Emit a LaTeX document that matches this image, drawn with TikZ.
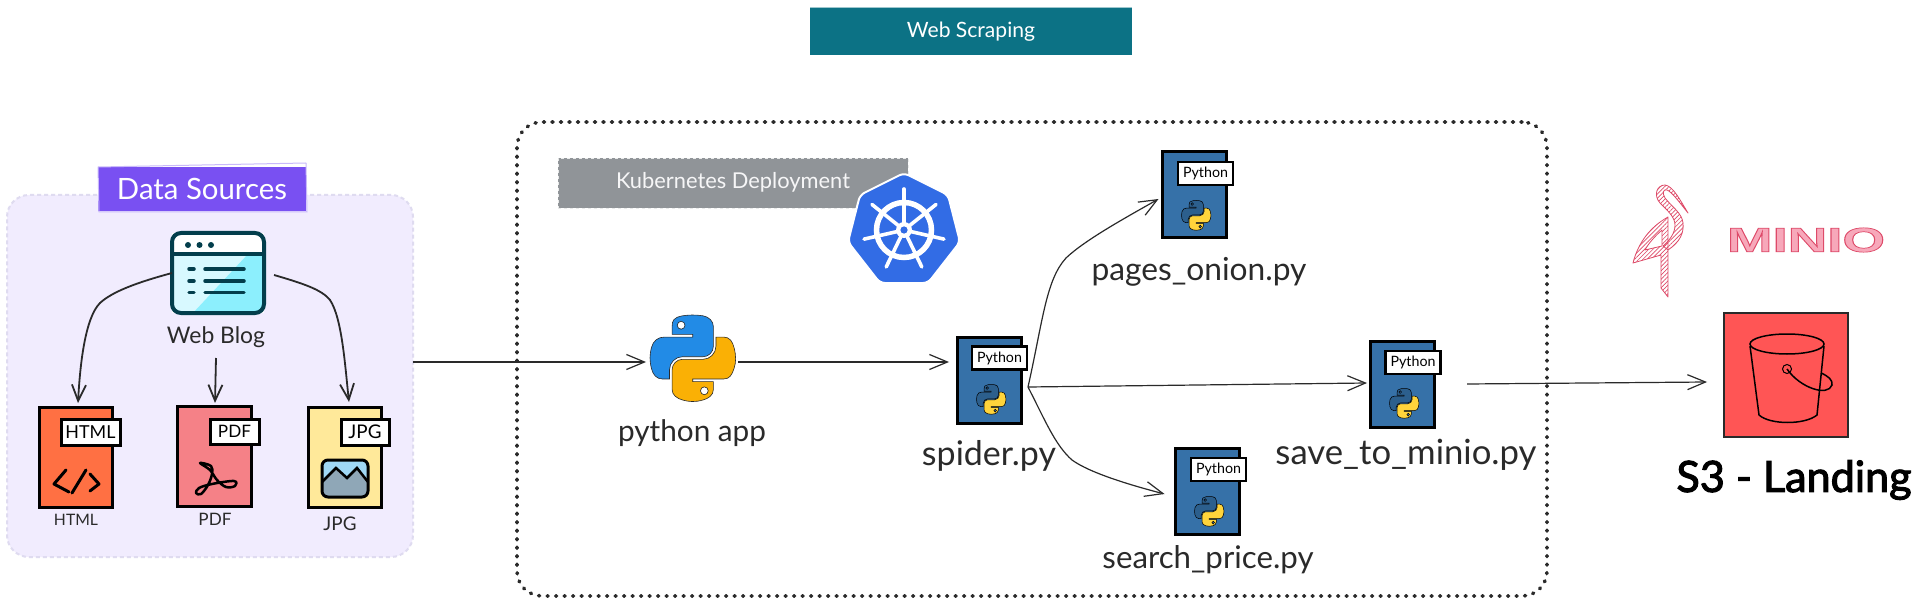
\documentclass[tikz,border=0pt]{standalone}
\usepackage{graphicx}
\usepackage{fontspec}
\setmainfont{Lato}
\usetikzlibrary{arrows.meta,svg.path,patterns.meta}
\definecolor{ink}{HTML}{2A2A2A}
\definecolor{panelfill}{HTML}{F1ECFE}
\definecolor{paneledge}{HTML}{DFDBF0}
\definecolor{violet}{HTML}{7950F2}
\definecolor{teal}{HTML}{0C7285}
\definecolor{kgray}{HTML}{909498}
\definecolor{kblue}{HTML}{326CE5}
\definecolor{htmlred}{HTML}{FF7043}
\definecolor{pdfred}{HTML}{F58187}
\definecolor{jpgyel}{HTML}{FFE99A}
\definecolor{pydoc}{HTML}{3671A8}
\definecolor{sthree}{HTML}{FF5555}
\definecolor{minio}{HTML}{DE4A68}
\definecolor{webstroke}{HTML}{033E4C}
\definecolor{webpale}{HTML}{D8F9FF}
\definecolor{webcyan}{HTML}{8CEFFD}
\definecolor{sky}{HTML}{A0D8F5}
\definecolor{mountain}{HTML}{8FA7B7}
\definecolor{pybigblue}{HTML}{228BE6}
\definecolor{pybigyellow}{HTML}{FAB005}
\definecolor{pysmallblue}{HTML}{2C5F8D}
\definecolor{pysmallyellow}{HTML}{FFD43B}
\newcommand{\fitw}[2]{\resizebox{#1pt}{!}{#2}}
\newcommand{\pylogo}[7]{%
  \begin{scope}[shift={(#1,#2)},xscale=#3,yscale=-#3]
  \path[fill=#4,draw=#6,line width=#7,even odd rule] svg {M 54.92 0 C 50.34 0.02 45.96 0.41 42.11 1.09 C 30.76 3.1 28.7 7.29 28.7 15.03 v 10.22 h 26.81 v 3.41 h -26.81 h -10.06 c -7.79 0 -14.62 4.68 -16.75 13.59 c -2.46 10.21 -2.57 16.59 0 27.25 c 1.91 7.94 6.46 13.59 14.25 13.59 h 9.22 v -12.25 c 0 -8.85 7.66 -16.66 16.75 -16.66 h 26.78 c 7.45 0 13.41 -6.14 13.41 -13.63 v -25.53 c 0 -7.27 -6.13 -12.72 -13.41 -13.94 C 64.28 0.33 59.5 -0.02 54.92 0 Z M 40.42 8.22 c 2.77 0 5.03 2.3 5.03 5.12 c 0 2.82 -2.26 5.09 -5.03 5.09 c -2.78 0 -5.03 -2.28 -5.03 -5.09 c 0 -2.83 2.25 -5.12 5.03 -5.12 Z};
  \path[fill=#5,draw=#6,line width=#7,even odd rule] svg {M 85.64 28.66 v 11.91 c 0 9.23 -7.83 17 -16.75 17 h -26.78 c -7.34 0 -13.41 6.28 -13.41 13.63 v 25.53 c 0 7.27 6.32 11.54 13.41 13.63 c 8.49 2.5 16.63 2.95 26.78 0 c 6.75 -1.95 13.41 -5.89 13.41 -13.63 v -10.22 h -26.78 v -3.41 h 26.78 h 13.41 c 7.79 0 10.7 -5.44 13.41 -13.59 c 2.8 -8.4 2.75 -16.48 0 -27.25 c -1.93 -7.76 -5.6 -13.59 -13.41 -13.59 Z M 70.58 93.32 c 2.78 0 5.03 2.28 5.03 5.09 c 0 2.83 -2.25 5.13 -5.03 5.13 c -2.77 0 -5.03 -2.3 -5.03 -5.13 c 0 -2.82 2.26 -5.09 5.03 -5.09 Z};
  \end{scope}}
\tikzset{
  box/.style={rectangle,inner sep=0pt,outer sep=0pt,align=center},
  sized/.style 2 args={minimum width=#1pt,minimum height=#2pt},
  label text/.style={box,text=ink},
  docfile/.style={box,draw=black,line width=3pt},
  tag/.style={box,draw=black,fill=white,line width=3pt,text=black},
  pytag/.style={box,draw=black,fill=white,line width=2.5pt,text=black,sized={55}{23}},
  pydocfile/.style={docfile,fill=pydoc,sized={64}{86}},
  flow/.style={draw=ink,line width=1.2pt,-{Straight Barb[length=18pt,width=15pt,line width=1.2pt]}},
  srcflow/.style={draw=ink,line width=1.8pt,-{Straight Barb[length=16pt,width=14pt,line width=1.8pt]}},
  glyph/.style={draw=black,line width=3pt,line cap=round,line join=round},
  hatch/.style={draw=minio,line width=.8pt,line join=round,even odd rule,pattern={Lines[angle=45,distance=3pt,line width=.7pt]},pattern color=minio},
}
\begin{document}
\begin{tikzpicture}[x=1pt,y=-1pt]
\useasboundingbox (0,0) rectangle (1920,604);
\fill[white] (0,0) rectangle (1920,604);

% title
\node[box,fill=teal,text=white,sized={322}{47}] (title) at (971,31.5) {\fitw{128}{Web Scraping}};
\draw[teal!40,line width=1pt] (title.north west) -- (title.north east);

% data sources panel
\node[box,fill=panelfill,draw=paneledge,line width=2pt,dash pattern=on 4pt off 3pt,rounded corners=22pt,sized={406}{362}] (sources) at (210,376) {};
\node[box,fill=violet,text=white,sized={208}{44}] (dslabel) at (202,189) {\fitw{170}{Data Sources}};
\draw[violet!40,line width=1pt] (98,167) -- (306,163);
\draw[violet!40,line width=1pt] (98,167) -- (99,212) -- (307,212) -- (306,163);

% web blog icon
\node[box,fill=white,draw=none,sized={92}{80}] (blog) at (218,273) {};
\begin{scope}
  \clip[rounded corners=9pt] (172,233) rectangle (264,313);
  \fill[white] (172,233) rectangle (264,254);
  \fill[webpale] (172,254) rectangle (264,313);
  \fill[webcyan] (248,254) -- (264,254) -- (264,313) -- (193,313) -- cycle;
\end{scope}
\draw[draw=webstroke,line width=4pt,rounded corners=9pt] (172,233) rectangle (264,313);
\draw[draw=webstroke,line width=3.5pt] (172,254) -- (264,254);
\foreach \dotx in {188,199.5,211} \fill[webstroke] (\dotx,245) circle (3pt);
\foreach \liney in {269,281,292.5} {
  \draw[webstroke,line width=3.5pt,line cap=round] (189,\liney) -- (194,\liney);
  \draw[webstroke,line width=3.5pt,line cap=round] (205,\liney) -- (244,\liney);
}
\node[label text] (blogtxt) at (216,337) {\fitw{98}{Web Blog}};

% HTML doc
\node[docfile,fill=htmlred,sized={73}{100}] (html) at (75.5,457) {};
\node[tag,sized={59}{26}] (htmltag) at (90.5,432) {\fitw{50}{HTML}};
\draw[glyph] (66,470) -- (54,484) -- (69,492);
\draw[glyph] (86,470) -- (72,493);
\draw[glyph] (90,474) -- (99,484) -- (90,491);
\node[label text] (htmltxt) at (76,520) {\fitw{44}{HTML}};

% PDF doc
\node[docfile,fill=pdfred,sized={74}{100}] (pdf) at (214,456) {};
\node[tag,sized={49}{25}] (pdftag) at (234.5,431.5) {\fitw{33}{PDF}};
\draw[glyph,line width=2.5pt,smooth] plot[smooth cycle,tension=.6] coordinates {(200,463) (211,466) (212,474) (208,485) (201,494) (196,493) (199,488) (212,484) (234,481) (235,486) (226,487) (217,480) (210,470)};
\node[label text] (pdftxt) at (215,519) {\fitw{33}{PDF}};

% JPG doc
\node[docfile,fill=jpgyel,sized={73}{100}] (jpg) at (344.5,457) {};
\node[tag,sized={48}{26}] (jpgtag) at (365,432) {\fitw{33}{JPG}};
\begin{scope}
  \clip[rounded corners=6pt] (322,460) rectangle (368,497);
  \fill[sky] (322,460) rectangle (368,497);
  \fill[mountain] (322,482) -- (336,468) -- (347,478) -- (357,468) -- (368,482) -- (368,497) -- (322,497) -- cycle;
  \draw[black,line width=2.5pt] (322,482) -- (336,468) -- (347,478) -- (357,468) -- (368,482);
\end{scope}
\draw[black,line width=3pt,rounded corners=6pt] (322,460) rectangle (368,497);
\node[label text] (jpgtxt) at (340,524) {\fitw{33}{JPG}};

% arrows in data sources
\draw[srcflow] (blog.west) .. controls (135,283) and (112,292) .. (100,303) .. controls (85,318) and (80,365) .. ([shift={(2.5,-4)}]html.north);
\draw[srcflow] ([shift={(-2,45)}]blog.south) -- ([shift={(1,-3)}]pdf.north);
\draw[srcflow] ([shift={(10,2)}]blog.east) .. controls (305,284) and (322,290) .. (330,300) .. controls (342,318) and (345,365) .. ([shift={(4.5,-5)}]jpg.north);

% kubernetes panel
\node[box,draw=ink,line width=3.6pt,line cap=round,dash pattern=on 1pt off 7.5pt,rounded corners=25pt,sized={1030}{474}] (k8s) at (1032,359) {};
\node[box,fill=kgray,draw=white!80!kgray,dashed,line width=.7pt,sized={350}{50}] (kdeploy) at (733,183) {};
\node[box,text=white!92!kgray] (kdtxt) at (733,182) {\fitw{234}{Kubernetes Deployment}};
\path[fill=kblue,draw=white,line width=2pt,rounded corners=5pt] (904,173) -- (948,195) -- (960,242) -- (928,283) -- (880,283) -- (848,242) -- (860,195) -- cycle;
\node[box,circle,sized={55}{55},draw=white,line width=5.5pt] (wheel) at (904,230) {};
\foreach \spoke in {270,321.43,372.86,424.29,475.71,527.14,578.57}
  \draw[white,line width=3.6pt,line cap=round] (wheel.center) -- ++(\spoke:41);
\fill[white] (wheel.center) circle (8pt);
\fill[kblue] (wheel.center) circle (3.6pt);

% python app
\node[box,sized={83}{88}] (pyapp) at (691.5,359) {};
\pylogo{650}{315}{.77}{pybigblue}{pybigyellow}{ink}{.6pt}
\node[label text] (pyapptxt) at (692,433) {\fitw{148}{python app}};

% python docs
\node[pydocfile] (spider) at (989,380) {};
\node[pytag] (spidertag) at (999.5,358) {\fitw{45}{Python}};
\pylogo{976.5}{384.5}{.265}{pysmallblue}{pysmallyellow}{black}{.5pt}
\node[label text] (spidertxt) at (989,456) {\fitw{134}{spider.py}};

\node[pydocfile] (pages) at (1194.5,195) {};
\node[pytag] (pagestag) at (1205.5,173.5) {\fitw{45}{Python}};
\pylogo{1181.5}{200.5}{.265}{pysmallblue}{pysmallyellow}{black}{.5pt}
\node[label text] (pagestxt) at (1199,272) {\fitw{215}{pages\_onion.py}};

\node[pydocfile] (save) at (1402,384) {};
\node[pytag] (savetag) at (1413,362.5) {\fitw{45}{Python}};
\pylogo{1389.5}{388.5}{.265}{pysmallblue}{pysmallyellow}{black}{.5pt}
\node[label text] (savetxt) at (1406,455) {\fitw{261}{save\_to\_minio.py}};

\node[pydocfile] (search) at (1207.5,491) {};
\node[pytag] (searchtag) at (1218.5,469.5) {\fitw{45}{Python}};
\pylogo{1194.5}{496.5}{.265}{pysmallblue}{pysmallyellow}{black}{.5pt}
\node[label text] (searchtxt) at (1208,560) {\fitw{211}{search\_price.py}};

% bucket
\node[box,fill=sthree,draw=ink,line width=1.5pt,sized={124}{124}] (sthreebox) at (1786,375) {};
\draw[black,line width=1.5pt] (1787,344) ellipse (37pt and 10pt);
\draw[black,line width=1.5pt] (1750,346) -- (1759,415) .. controls (1770,425) and (1805,425) .. (1817,415) -- (1824,346);
\draw[black,line width=1pt] (1787,369) circle (4.5pt);
\draw[black,line width=1.5pt] (1787,369) .. controls (1800,388) and (1828,397) .. (1832,385) .. controls (1833,380) and (1828,376) .. (1821,373);
\node[label text,text=black] (sthreetxt) at (1794,480) {\fitw{235}{\special{pdf:code 2 Tr 0.25 w 0 0 0 RG 0 0 0 rg}S3 - Landing\special{pdf:code 0 Tr}}};

% minio logo
\path[hatch] (1688,213) .. controls (1680,200) and (1673,186) .. (1665,185) .. controls (1657,185) and (1653,195) .. (1660,203) .. controls (1667,210) and (1675,217) .. (1675,225) .. controls (1675,233) and (1670,240) .. (1663,246) -- (1668,250) .. controls (1680,242) and (1684,233) .. (1683,223) .. controls (1682,213) and (1672,207) .. (1665,198) .. controls (1662,193) and (1663,189) .. (1667,190) .. controls (1672,192) and (1680,203) .. (1688,213) -- cycle;
\path[hatch] (1668,217) -- (1668,297) -- (1661,288) -- (1661,255) -- (1633,263) .. controls (1638,243) and (1650,227) .. (1668,217) -- cycle (1662,230) .. controls (1655,236) and (1648,244) .. (1645,250) -- (1662,246) -- cycle;
\node[box,text=minio] (minioword) at (1806,240) {\resizebox{158pt}{24pt}{\special{pdf:code 2 Tr 0.2 w 0.87 0.29 0.41 RG 0.97 0.66 0.73 rg}\fontspec{Liberation Sans Bold}MINIO\special{pdf:code 0 Tr}}};

% connectors
\draw[flow] ([shift={(0,-14)}]sources.east) -- ([shift={(-4,3)}]pyapp.west);
\draw[flow] ([shift={(5,3)}]pyapp.east) -- ([shift={(-8,-18)}]spider.west);
\draw[flow] ([shift={(7,7)}]spider.east) .. controls (1043,320) and (1046,280) .. (1066,258) .. controls (1085,240) and (1125,218) .. ([shift={(-4,4)}]pages.west);
\draw[flow] ([shift={(7,7)}]spider.east) -- ([shift={(-3,-1)}]save.west);
\draw[flow] ([shift={(7,7)}]spider.east) .. controls (1045,420) and (1055,445) .. (1072,460) .. controls (1090,473) and (1130,485) .. ([shift={(-11,3)}]search.west);
\draw[flow] ([shift={(33,0)}]save.east) -- ([shift={(-17,7)}]sthreebox.west);
\end{tikzpicture}
\end{document}
